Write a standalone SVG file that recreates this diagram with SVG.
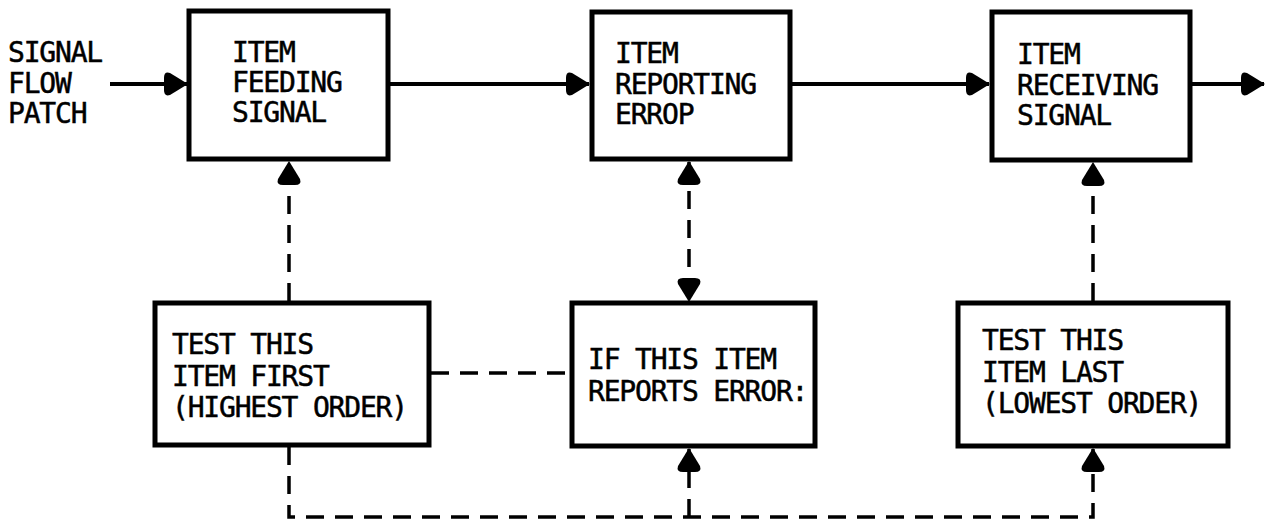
<svg xmlns="http://www.w3.org/2000/svg" width="1266" height="525" viewBox="0 0 1266 525">
<style>
.box{fill:#fff;stroke:#000;stroke-width:5;stroke-linejoin:miter}
.t{font-family:"DejaVu Sans Mono","Liberation Mono",monospace;font-size:28px;letter-spacing:-1.2px;fill:#000;stroke:#000;stroke-width:0.5}
.solid{fill:none;stroke:#000;stroke-width:4}
.dash{fill:none;stroke:#000;stroke-width:3.5;stroke-dasharray:18 11}
</style>
<defs>
<marker id="ah" viewBox="-25 -13 27 26" refX="0" refY="0" markerWidth="27" markerHeight="26" markerUnits="userSpaceOnUse" orient="auto-start-reverse">
<path d="M1,0 L-17,-11 Q-23,-13 -23,-6 L-23,6 Q-23,13 -17,11 Z" fill="#000"/>
</marker>
</defs>
<rect width="1266" height="525" fill="#fff"/>
<g id="connectors">
<line class="solid" x1="110" y1="84" x2="187" y2="84" marker-end="url(#ah)"/>
<line class="solid" x1="390" y1="84" x2="589" y2="84" marker-end="url(#ah)"/>
<line class="solid" x1="792" y1="84" x2="989" y2="84" marker-end="url(#ah)"/>
<line class="solid" x1="1192" y1="84" x2="1264" y2="84" marker-end="url(#ah)"/>
<line class="dash" x1="289" y1="301" x2="289" y2="162" marker-end="url(#ah)"/>
<line class="dash" x1="689" y1="162" x2="689" y2="301" marker-start="url(#ah)" marker-end="url(#ah)"/>
<line class="dash" x1="1093" y1="301" x2="1093" y2="163" marker-end="url(#ah)"/>
<line class="dash" x1="431" y1="373" x2="570" y2="373"/>
<path class="dash" d="M289,447 V517 H1093 V449" marker-end="url(#ah)"/>
<line class="dash" x1="689" y1="517" x2="689" y2="449" marker-end="url(#ah)"/>
</g>
<g id="label-signal-flow">
<text class="t" x="8" y="62">SIGNAL</text>
<text class="t" x="8" y="93">FLOW</text>
<text class="t" x="8" y="123">PATCH</text>
</g>
<g id="item-feeding">
<rect class="box" x="189" y="11" width="199" height="148"/>
<text class="t" x="232" y="62">ITEM</text>
<text class="t" x="232" y="92">FEEDING</text>
<text class="t" x="232" y="122">SIGNAL</text>
</g>
<g id="item-reporting">
<rect class="box" x="592" y="12" width="198" height="147"/>
<text class="t" x="615" y="63">ITEM</text>
<text class="t" x="615" y="94">REPORTING</text>
<text class="t" x="615" y="124">ERROP</text>
</g>
<g id="item-receiving">
<rect class="box" x="992" y="12" width="198" height="148"/>
<text class="t" x="1017" y="64">ITEM</text>
<text class="t" x="1017" y="95">RECEIVING</text>
<text class="t" x="1017" y="125">SIGNAL</text>
</g>
<g id="test-first">
<rect class="box" x="155" y="303" width="274" height="142"/>
<text class="t" x="172" y="354">TEST THIS</text>
<text class="t" x="172" y="386">ITEM FIRST</text>
<text class="t" x="172" y="417">(HIGHEST ORDER)</text>
</g>
<g id="if-error">
<rect class="box" x="572" y="303" width="243" height="143"/>
<text class="t" x="588" y="369">IF THIS ITEM</text>
<text class="t" x="588" y="401">REPORTS ERROR:</text>
</g>
<g id="test-last">
<rect class="box" x="958" y="303" width="270" height="143"/>
<text class="t" x="982" y="350">TEST THIS</text>
<text class="t" x="982" y="382">ITEM LAST</text>
<text class="t" x="982" y="413">(LOWEST ORDER)</text>
</g>
</svg>
